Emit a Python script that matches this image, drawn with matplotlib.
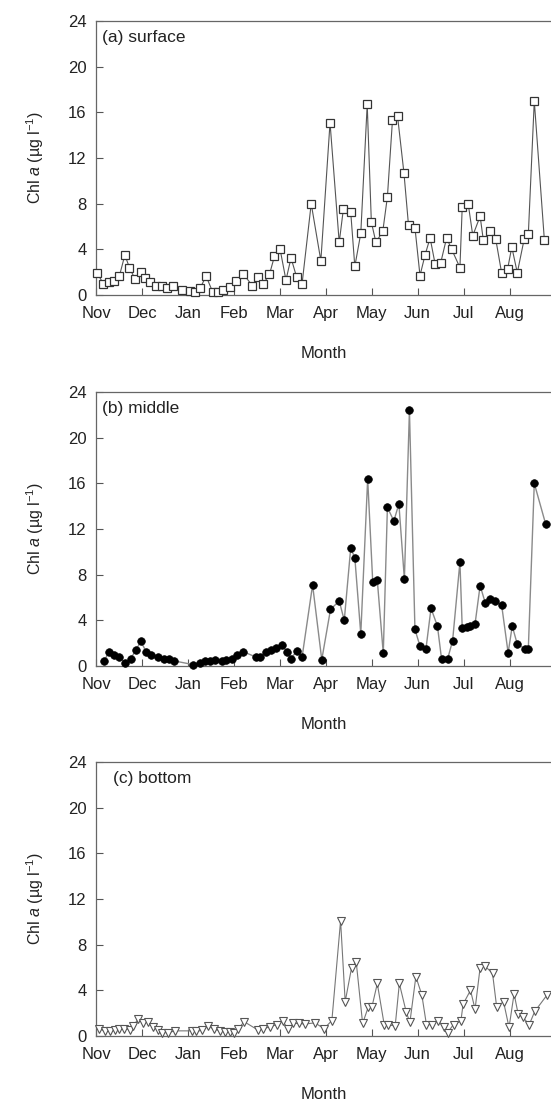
import numpy as np
import matplotlib.pyplot as plt

plt.rcParams['font.family'] = ['Liberation Sans', 'DejaVu Sans']
plt.rcParams['mathtext.fontset'] = 'custom'
plt.rcParams['mathtext.rm'] = 'Liberation Sans'
plt.rcParams['mathtext.it'] = 'Liberation Sans:italic'

# x = months since 1 Nov (0 = Nov, 9 = Aug)
month_labels = ['Nov', 'Dec', 'Jan', 'Feb', 'Mar', 'Apr', 'May', 'Jun', 'Jul', 'Aug']

# (a) surface
surf_t = [0.02, 0.15, 0.28, 0.38, 0.50, 0.62, 0.72, 0.84, 0.97, 1.06, 1.17, 1.30, 1.42, 1.54,
          1.66, 1.87, 2.04, 2.15, 2.26, 2.39, 2.53, 2.66, 2.76, 2.91, 3.04, 3.20, 3.40, 3.53,
          3.64, 3.77, 3.88, 4.00, 4.13, 4.24, 4.36, 4.48, 4.68, 4.89, 5.09, 5.29, 5.38, 5.54,
          5.63, 5.76, 5.90, 5.99, 6.09, 6.24, 6.34, 6.45, 6.56, 6.70, 6.80, 6.94, 7.05, 7.16,
          7.27, 7.38, 7.50, 7.63, 7.74, 7.92, 7.97, 8.10, 8.20, 8.36, 8.43, 8.58, 8.70, 8.83,
          8.96, 9.05, 9.17, 9.32, 9.41, 9.54, 9.76]
surf_chl = [1.9, 1.0, 1.15, 1.25, 1.65, 3.5, 2.4, 1.4, 2.0, 1.5, 1.1, 0.75, 0.75, 0.6,
            0.75, 0.45, 0.35, 0.25, 0.6, 1.65, 0.3, 0.25, 0.4, 0.7, 1.2, 1.85, 0.8, 1.6,
            1.0, 1.8, 3.4, 4.05, 1.3, 3.25, 1.6, 0.95, 8.0, 3.0, 15.1, 4.6, 7.5, 7.3,
            2.5, 5.4, 16.7, 6.4, 4.6, 5.6, 8.6, 15.3, 15.7, 10.7, 6.1, 5.9, 1.7, 3.5,
            5.0, 2.7, 2.8, 5.0, 4.0, 2.4, 7.7, 8.0, 5.2, 6.9, 4.8, 5.6, 4.9, 1.9,
            2.3, 4.2, 1.95, 4.9, 5.3, 17.0, 4.8]

# (b) middle
mid_t = [0.17, 0.27, 0.38, 0.50, 0.63, 0.75, 0.86, 0.97, 1.09, 1.20, 1.34, 1.47, 1.58, 1.69,
         2.11, 2.25, 2.36, 2.48, 2.58, 2.73, 2.83, 2.96, 3.07, 3.20, 3.48, 3.56, 3.69, 3.81,
         3.92, 4.04, 4.15, 4.24, 4.37, 4.48, 4.71, 4.91, 5.10, 5.29, 5.40, 5.54, 5.63, 5.76,
         5.91, 6.02, 6.12, 6.25, 6.34, 6.48, 6.59, 6.71, 6.82, 6.94, 7.05, 7.18, 7.29, 7.43,
         7.52, 7.65, 7.76, 7.92, 7.97, 8.07, 8.15, 8.25, 8.36, 8.47, 8.58, 8.68, 8.83, 8.97,
         9.06, 9.17, 9.34, 9.41, 9.54, 9.79]
mid_chl = [0.4, 1.25, 0.95, 0.8, 0.3, 0.65, 1.4, 2.15, 1.2, 0.95, 0.8, 0.65, 0.6, 0.45,
           0.12, 0.28, 0.4, 0.45, 0.5, 0.45, 0.5, 0.65, 1.0, 1.25, 0.78, 0.8, 1.24, 1.44,
           1.6, 1.85, 1.25, 0.65, 1.35, 0.75, 7.1, 0.55, 4.95, 5.7, 4.0, 10.3, 9.5, 2.8,
           16.4, 7.4, 7.5, 1.1, 13.9, 12.7, 14.2, 7.6, 22.4, 3.2, 1.75, 1.5, 5.05, 3.5,
           0.6, 0.6, 2.2, 9.1, 3.35, 3.4, 3.5, 3.7, 7.05, 5.55, 5.9, 5.7, 5.3, 1.15,
           3.5, 1.9, 1.5, 1.5, 16.0, 12.4]

# (c) bottom
bot_t = [0.06, 0.19, 0.30, 0.41, 0.50, 0.61, 0.73, 0.80, 0.91, 1.02, 1.13, 1.23, 1.35, 1.44,
         1.57, 1.71, 2.08, 2.18, 2.29, 2.44, 2.56, 2.69, 2.80, 2.90, 3.00, 3.09, 3.22, 3.53,
         3.64, 3.78, 3.93, 4.06, 4.18, 4.29, 4.42, 4.54, 4.76, 4.96, 5.13, 5.32, 5.42, 5.56,
         5.66, 5.80, 5.92, 6.00, 6.12, 6.27, 6.36, 6.51, 6.60, 6.75, 6.83, 6.96, 7.09, 7.19,
         7.32, 7.45, 7.57, 7.65, 7.78, 7.94, 7.99, 8.15, 8.25, 8.36, 8.47, 8.63, 8.72, 8.87,
         8.99, 9.10, 9.19, 9.29, 9.43, 9.55, 9.81]
bot_chl = [0.65, 0.4, 0.4, 0.5, 0.6, 0.65, 0.55, 0.85, 1.5, 1.1, 1.25, 0.8, 0.5, 0.3,
           0.3, 0.45, 0.45, 0.4, 0.5, 0.85, 0.6, 0.45, 0.35, 0.35, 0.25, 0.65, 1.25, 0.5,
           0.65, 0.8, 1.0, 1.3, 0.6, 1.1, 1.1, 1.05, 1.15, 0.65, 1.35, 10.1, 3.0, 6.0,
           6.5, 1.1, 2.5, 2.5, 4.6, 1.0, 0.95, 0.9, 4.6, 2.1, 1.2, 5.2, 3.6, 1.0,
           1.0, 1.35, 0.75, 0.3, 1.0, 1.3, 2.8, 4.0, 2.35, 6.0, 6.1, 5.5, 2.55, 3.0,
           0.75, 3.7, 1.9, 1.65, 1.0, 2.15, 3.55]

W, H = 551, 1103
fig = plt.figure(figsize=(W / 100, H / 100), dpi=100)

left = 96.4 / W
width = 1 - left
height = 274 / H
bottoms = [1 - 295 / H, 1 - 666 / H, 1 - 1036 / H]

panels = [
    (surf_t, surf_chl, '(a) surface', dict(marker='s', ms=6, mfc='white', mec='#333333', mew=0.9,
                                           color='#555555', lw=0.8), 0.012),
    (mid_t, mid_chl, '(b) middle', dict(marker='o', ms=5.5, mfc='black', mec='black', mew=0.5,
                                        color='#8a8a8a', lw=1.0), 0.012),
    (bot_t, bot_chl, '(c) bottom', dict(marker='v', ms=5.5, mfc='white', mec='#555555', mew=0.8,
                                        color='#777777', lw=0.8), 0.037),
]

for (t, chl, title, style, tx), b in zip(panels, bottoms):
    ax = fig.add_axes([left, b, width, height])
    ax.plot(t, chl, **style, clip_on=False, zorder=3)

    ax.set_xlim(0, (W - 96.4) / 45.9)
    ax.set_ylim(0, 24)
    ax.set_xticks(np.arange(10))
    ax.set_xticklabels(month_labels)
    ax.set_yticks(np.arange(0, 25, 4))

    ax.tick_params(direction='in', length=5, width=0.8, colors='#555555',
                   labelcolor='#222222', labelsize=12, top=False, right=False)
    ax.tick_params(axis='x', pad=8)
    ax.tick_params(axis='y', pad=7)

    for s in ['left', 'bottom', 'top']:
        ax.spines[s].set_color('#666666')
        ax.spines[s].set_linewidth(0.9)
    ax.spines['right'].set_visible(False)

    ax.text(tx, 0.94, title, transform=ax.transAxes, fontsize=12.5,
            color='#222222', va='center', ha='left')
    ax.set_xlabel('Month', fontsize=12, color='#222222', labelpad=18)
    ax.set_ylabel('Chl $a$ (µg l$^{-1}$)', fontsize=11.5, color='#222222', labelpad=16)

fig.savefig('out.png', dpi=100)
